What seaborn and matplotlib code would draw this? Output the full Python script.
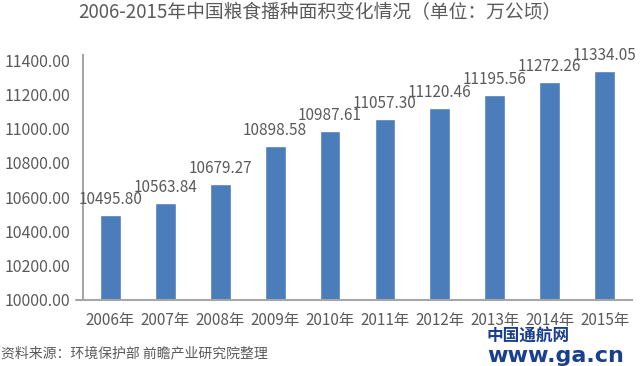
import matplotlib
matplotlib.use("Agg")
import matplotlib.pyplot as plt
import seaborn as sns
import pandas as pd

years = ["2006年", "2007年", "2008年", "2009年", "2010年",
         "2011年", "2012年", "2013年", "2014年", "2015年"]
area = [10495.80, 10563.84, 10679.27, 10898.58, 10987.61,
        11057.30, 11120.46, 11195.56, 11272.26, 11334.05]
yticks = [10000, 10200, 10400, 10600, 10800, 11000, 11200, 11400]
title = "2006-2015年中国粮食播种面积变化情况（单位：万公顷）"
source = "资料来源：环境保护部 前瞻产业研究院整理"

sns.set_theme(style="white")
plt.rcParams['font.family'] = ['Noto Sans CJK SC', 'DejaVu Sans']

TXT = "#5A5A5A"
BAR = "#4B7DBB"
AX = "#A6A6A6"

df = pd.DataFrame({"year": years, "area": area})

fig = plt.figure(figsize=(6.4, 3.66), dpi=100)
ax = fig.add_axes([83/640, 1-300/366, (632-83)/640, (300-55)/366])

sns.barplot(data=df, x="year", y="area", color=BAR, width=0.38,
            saturation=1, ax=ax)

ax.set_ylim(10000, 11430)
ax.set_xlim(-0.5, 9.5)
ax.set_yticks(yticks)
ax.set_yticklabels([f"{v:.2f}" for v in yticks])
ax.set_xlabel("")
ax.set_ylabel("")

for s in ["top", "right"]:
    ax.spines[s].set_visible(False)
for s in ["left", "bottom"]:
    ax.spines[s].set_color(AX)
    ax.spines[s].set_linewidth(1.5)

ax.tick_params(axis="y", length=0, pad=9, labelsize=11.5, labelcolor=TXT)
ax.tick_params(axis="x", length=0, pad=9, labelsize=11, labelcolor=TXT)
ax.axhline(10000, xmin=-0.012, xmax=0, color=AX, lw=1.5, clip_on=False)

for i, v in enumerate(area):
    ax.annotate(f"{v:.2f}", (i, v), xytext=(0, 5), textcoords="offset points",
                ha="center", va="bottom", fontsize=11, color=TXT)

fig.text(0.5, 1-13/366, title, ha="center", va="center", fontsize=13.5, color=TXT)
fig.text(1/640, 1-353/366, source, ha="left", va="center", fontsize=10, color=TXT)

fig.text(487/640, 1-337/366, "中国通航网", ha="left", va="center", fontsize=12,
         color="#1B3F8F", fontweight="bold")
fig.text(487/640, 1-356/366, "www.ga.cn", ha="left", va="center", fontsize=16,
         color="#1B3F8F", fontweight="bold", family=["DejaVu Sans"])

fig.savefig("out.png", dpi=100)
